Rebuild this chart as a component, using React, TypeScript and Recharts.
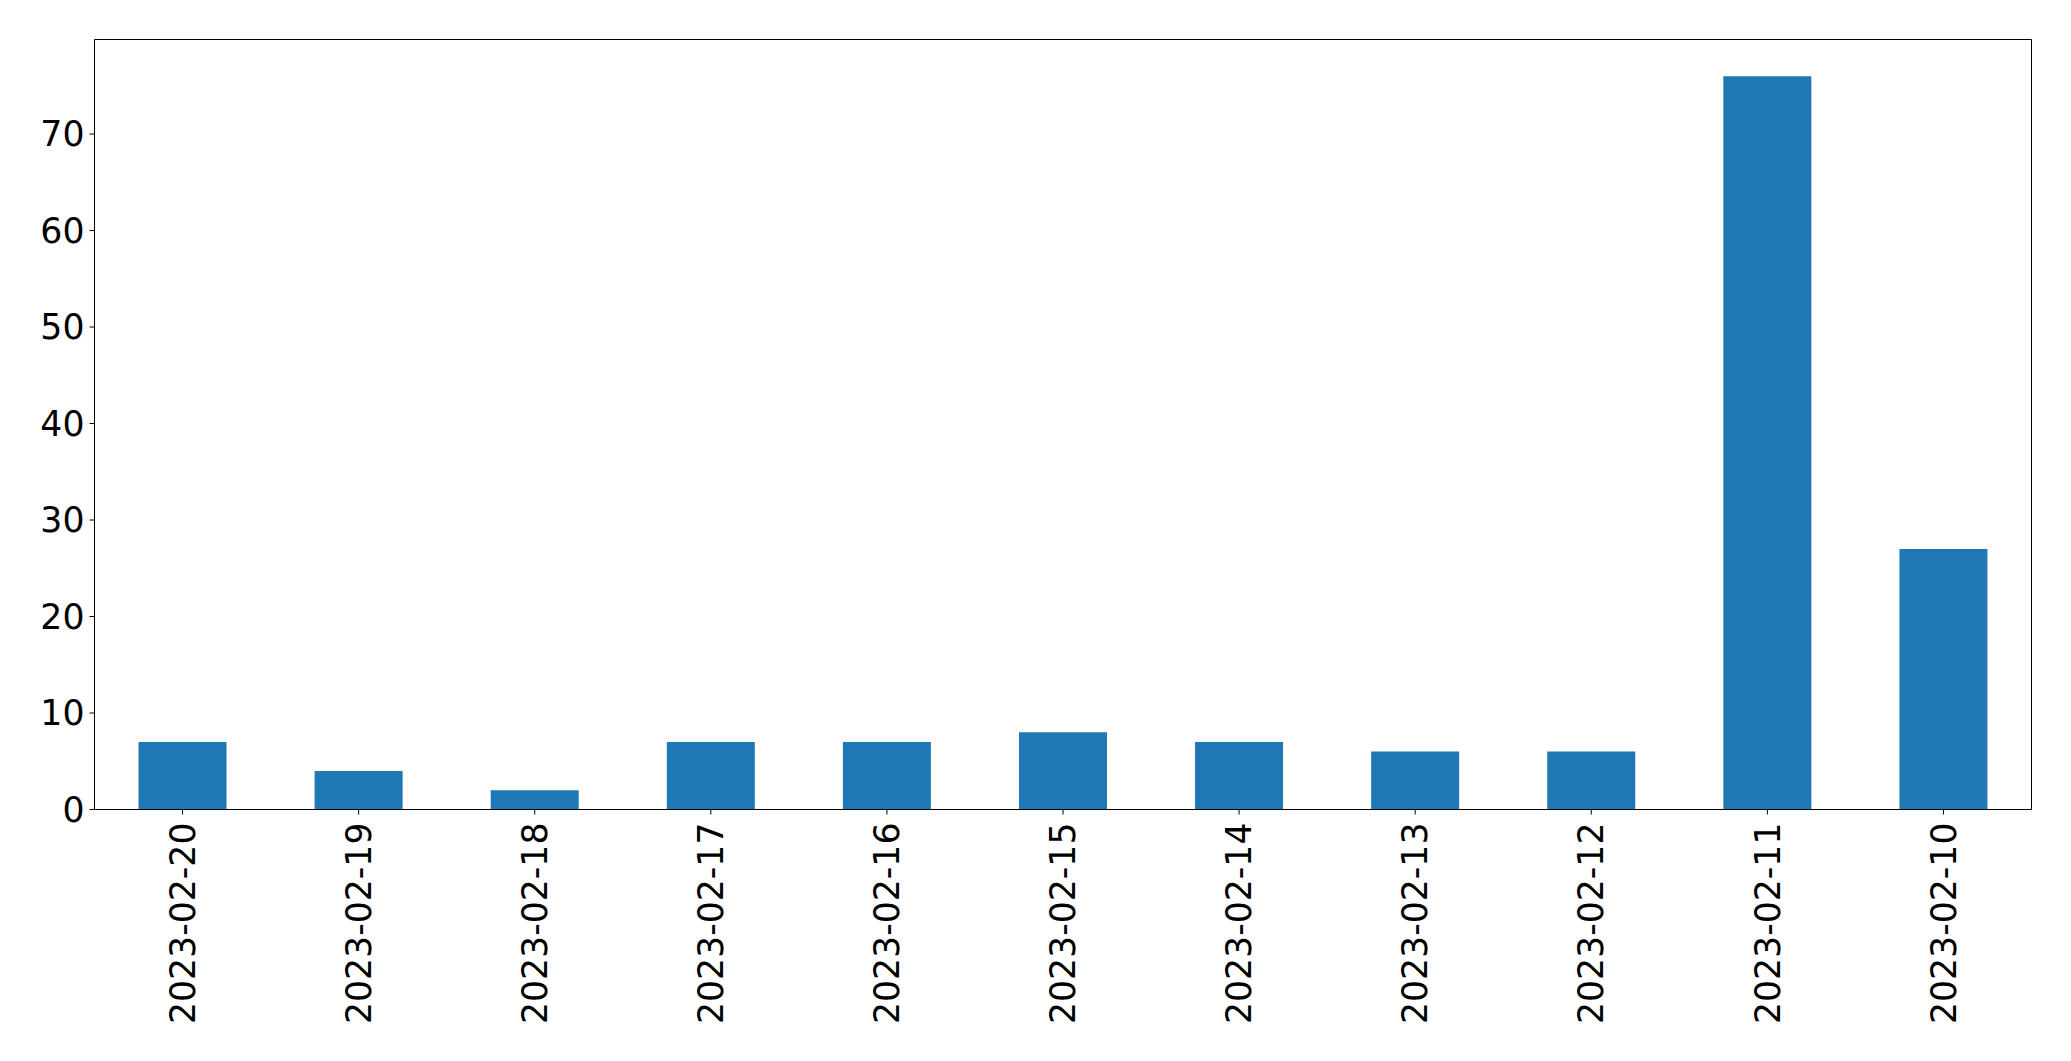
import React from 'react';
import { BarChart, Bar, XAxis, YAxis } from 'recharts';

const dates = [
  '2023-02-20', '2023-02-19', '2023-02-18', '2023-02-17', '2023-02-16', '2023-02-15',
  '2023-02-14', '2023-02-13', '2023-02-12', '2023-02-11', '2023-02-10',
];
const counts = [7, 4, 2, 7, 7, 8, 7, 6, 6, 76, 27];
const yTicks = [0, 10, 20, 30, 40, 50, 60, 70];
const yMax = 79.8;

const data = dates.map((d, i) => ({ date: d, count: counts[i] }));

const FONT = '"DejaVu Sans", sans-serif';
const FS = 34.7;

const XTick = (props: any) => {
  const { x, y, payload } = props;
  const ay = y + 3;
  return (
    <text
      x={x}
      y={ay}
      dy="0.35em"
      textAnchor="end"
      transform={`rotate(-90, ${x}, ${ay})`}
      fontFamily={FONT}
      fontSize={FS}
      fill="#000"
    >
      {payload.value}
    </text>
  );
};

export default function App() {
  return (
    <div style={{ position: 'absolute', left: 0, top: 0, width: 2071, height: 1061, background: '#fff' }}>
      <BarChart
        width={2071}
        height={1061}
        data={data}
        margin={{ top: 38.5, right: 38.5, bottom: 0, left: 0 }}
        barCategoryGap="25%"
      >
        <XAxis
          dataKey="date"
          height={251.5}
          interval={0}
          tickSize={5}
          tickMargin={5}
          tickLine={{ stroke: '#000', strokeWidth: 1 }}
          axisLine={{ stroke: '#000', strokeWidth: 1 }}
          tick={<XTick />}
        />
        <XAxis
          xAxisId="top"
          orientation="top"
          dataKey="date"
          height={1}
          interval={0}
          tick={false}
          tickLine={false}
          axisLine={{ stroke: '#000', strokeWidth: 1 }}
        />
        <YAxis
          width={94.5}
          domain={[0, yMax]}
          ticks={yTicks}
          allowDataOverflow
          interval={0}
          tickSize={5}
          tickMargin={5}
          tickLine={{ stroke: '#000', strokeWidth: 1 }}
          axisLine={{ stroke: '#000', strokeWidth: 1 }}
          tick={{ fontFamily: FONT, fontSize: FS, fill: '#000' }}
        />
        <YAxis
          yAxisId="right"
          orientation="right"
          width={1}
          domain={[0, yMax]}
          ticks={yTicks}
          allowDataOverflow
          tick={false}
          tickLine={false}
          axisLine={{ stroke: '#000', strokeWidth: 1 }}
        />
        <Bar dataKey="count" fill="#1f77b4" isAnimationActive={false} />
      </BarChart>
    </div>
  );
}
